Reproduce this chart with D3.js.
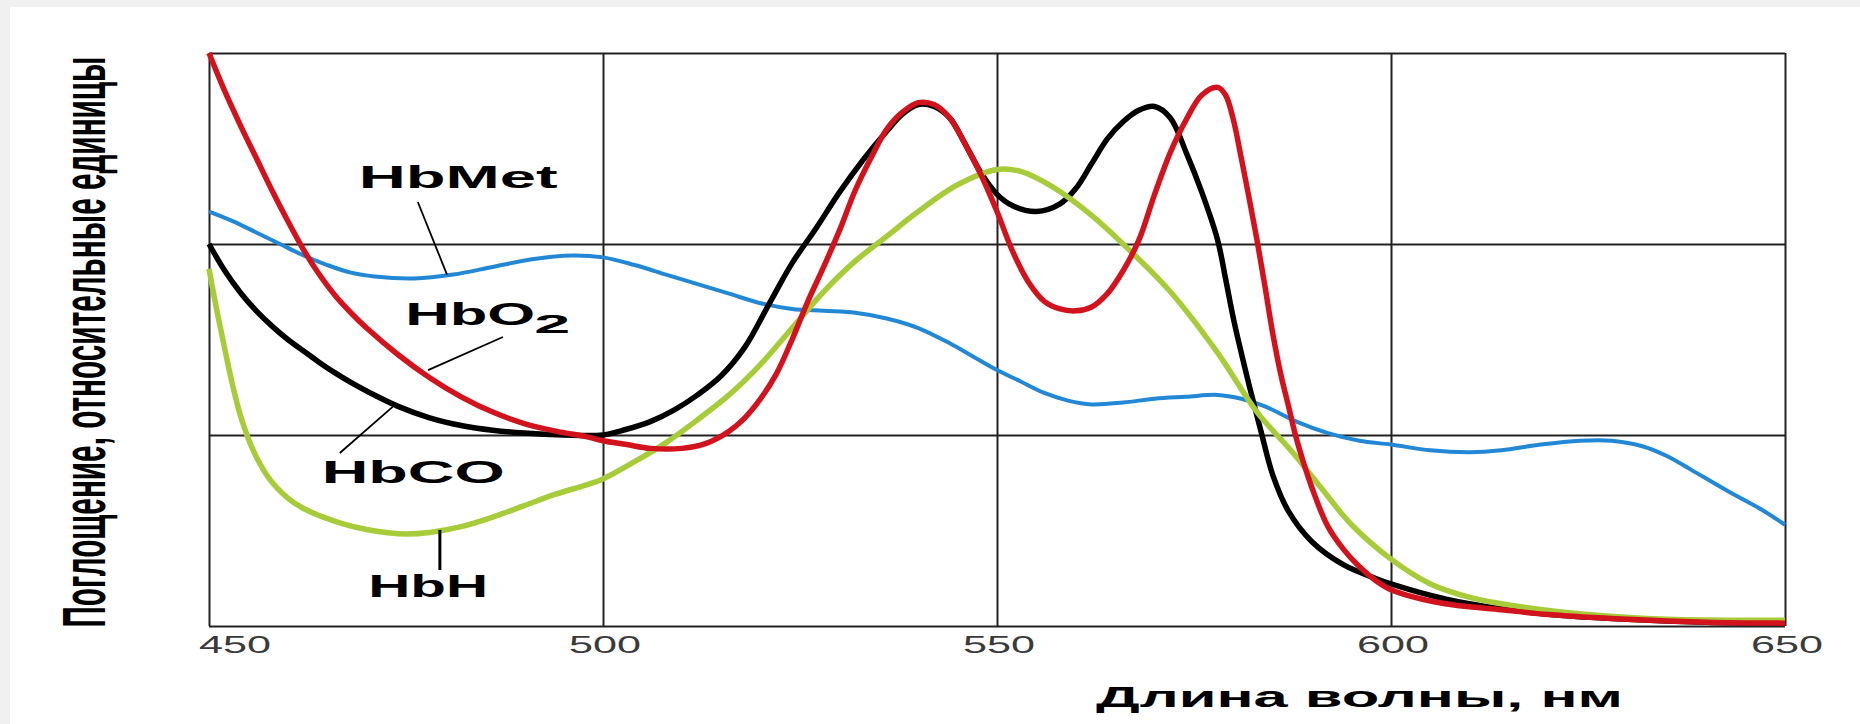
<!DOCTYPE html>
<html>
<head>
<meta charset="utf-8">
<script src="https://cdn.jsdelivr.net/npm/d3@7"></script>
<style>
  body { margin: 0; background: #fff; }
  svg { display: block; }
  text { font-family: "Liberation Sans", Arial, sans-serif; }
</style>
</head>
<body>
<svg id="chart" width="1860" height="724"></svg>
<script>
// absorption spectra: [wavelength nm, relative units]
const hbMet = [[450,2.17],[453,2.12],[456,2.06],[459,2.00],[462,1.94],[465,1.89],[468,1.85],[471,1.83],[476,1.82],[481,1.84],[486,1.88],[491,1.92],[496,1.94],[500,1.93],[504,1.89],[508,1.84],[512,1.79],[516,1.74],[520,1.69],[524,1.66],[528,1.65],[532,1.64],[536,1.61],[540,1.56],[544,1.48],[547,1.41],[550,1.34],[553,1.28],[556,1.22],[559,1.18],[562,1.16],[566,1.17],[570,1.19],[574,1.20],[578,1.21],[581,1.19],[584,1.15],[588,1.07],[592,1.01],[596,0.97],[600,0.95],[605,0.92],[610,0.91],[614,0.92],[619,0.95],[624,0.97],[628,0.97],[632,0.94],[635,0.89],[638,0.82],[643,0.70],[647,0.61],[650,0.53]];

const hbH = [[450,1.87],[451,1.65],[452,1.45],[453,1.26],[454,1.10],[455.5,0.93],[457.5,0.78],[460,0.67],[462,0.615],[464.5,0.57],[467,0.535],[470,0.505],[473,0.487],[475,0.482],[478,0.49],[482,0.52],[486,0.57],[490,0.63],[494,0.69],[498,0.74],[500,0.77],[504,0.86],[508,0.96],[512,1.08],[516,1.21],[520,1.37],[524,1.56],[528,1.75],[532,1.91],[536,2.04],[540,2.17],[545,2.31],[550,2.39],[553,2.38],[557,2.30],[562,2.15],[567,1.96],[572,1.75],[578,1.43],[583,1.12],[587.5,0.91],[591,0.73],[595,0.53],[600,0.35],[605,0.22],[610,0.15],[615,0.11],[625,0.06],[635,0.035],[650,0.03]];

const hbCO = [[450,2.0],[452,1.86],[454,1.745],[456,1.65],[458,1.57],[460,1.50],[462,1.44],[464,1.38],[466,1.325],[468,1.275],[470,1.23],[474,1.15],[478,1.09],[482,1.05],[486,1.025],[490,1.01],[495,1.0],[500,1.0],[503,1.03],[506,1.07],[509,1.13],[512,1.21],[515,1.31],[518,1.46],[521,1.68],[524,1.90],[527,2.08],[530,2.27],[533,2.44],[536,2.59],[538,2.68],[540,2.73],[542,2.72],[544,2.66],[546,2.52],[548,2.37],[550,2.26],[552,2.20],[555,2.17],[558,2.21],[560,2.29],[562,2.42],[564,2.55],[566,2.64],[568,2.70],[570,2.72],[572,2.66],[574,2.48],[576,2.27],[578,2.02],[579,1.82],[580,1.61],[581,1.43],[582,1.26],[583.5,1.02],[585,0.79],[587,0.60],[590,0.44],[594,0.32],[598,0.25],[600,0.22],[607,0.14],[614,0.09],[622,0.055],[630,0.035],[640,0.02],[650,0.015]];

const hbO2 = [[450,3.0],[452,2.80],[454,2.62],[456,2.45],[458,2.28],[460,2.12],[462,1.97],[464,1.84],[466,1.73],[468,1.64],[470,1.56],[474,1.42],[478,1.30],[482,1.20],[486,1.12],[490,1.06],[494,1.02],[498,0.99],[500,0.97],[503,0.95],[506,0.93],[510,0.93],[513,0.955],[516,1.02],[518,1.09],[520,1.19],[522,1.32],[524,1.50],[526,1.70],[528,1.88],[530,2.07],[532,2.28],[534,2.45],[536,2.60],[538,2.69],[540,2.74],[542,2.73],[544,2.66],[546,2.52],[548,2.36],[550,2.17],[552,1.96],[554,1.80],[556,1.70],[558,1.66],[560,1.65],[562,1.67],[564,1.74],[566,1.86],[568,2.02],[570,2.26],[572,2.48],[574,2.65],[576,2.78],[578,2.82],[579,2.78],[580,2.65],[581,2.45],[582,2.24],[583,2.02],[584,1.78],[585,1.53],[586,1.32],[587,1.15],[588,0.98],[590,0.72],[592,0.52],[594,0.40],[596,0.31],[598,0.24],[600,0.19],[604,0.14],[608,0.11],[614,0.085],[620,0.06],[630,0.035],[640,0.02],[650,0.015]];

const xTicks = [450, 500, 550, 600, 650];
const yGrid = [0, 1, 2, 3];

// label text, anchor (wavelength, value) and leader line ends in data units
const labels = [
  { name: "HbMet", at: [469.0, 2.293], lead: [[476.5, 2.22], [480.2, 1.84]] },
  { name: "HbO", sub: "2", at: [474.9, 1.576], lead: [[487.3, 1.513], [477.8, 1.34]] },
  { name: "HbCO", at: [464.3, 0.749], lead: [[473.3, 1.147], [466.6, 0.906]] },
  { name: "HbH", at: [470.2, 0.152], lead: [[479.3, 0.503], [479.3, 0.293]] }
];

const svg = d3.select("#chart");

// light grey frame strips on top and left
svg.append("rect").attr("x", 0).attr("y", 0).attr("width", 1860).attr("height", 7).attr("fill", "#f0f0f0");
svg.append("rect").attr("x", 0).attr("y", 0).attr("width", 10).attr("height", 724).attr("fill", "#f0f0f0");

const mLeft = 209, mRight = 1785, mTop = 53, mBottom = 626;

const x = d3.scaleLinear().domain([450, 650]).range([mLeft, mRight]);
const y = d3.scaleLinear().domain([0, 3]).range([mBottom, mTop]);

// grid
svg.append("g")
    .attr("transform", `translate(0, ${mBottom})`)
    .call(d3.axisBottom(x).tickValues(xTicks).tickSize(-(mBottom - mTop)).tickFormat(""))
    .call(g => g.select(".domain").remove())
    .selectAll("line").attr("stroke", "#222").attr("stroke-width", 2);

svg.append("g")
    .attr("transform", `translate(${mLeft}, 0)`)
    .call(d3.axisLeft(y).tickValues(yGrid).tickSize(-(mRight - mLeft)).tickFormat(""))
    .call(g => g.select(".domain").remove())
    .selectAll("line").attr("stroke", "#222").attr("stroke-width", 2);

// tick labels (stretched like the source picture)
svg.append("g").selectAll("text")
    .data(xTicks)
    .enter().append("text")
    .attr("x", (d, i) => i === 0 ? x(d) + 26 : x(d) + 2)
    .attr("y", 653)
    .attr("text-anchor", "middle")
    .attr("textLength", 72)
    .attr("lengthAdjust", "spacingAndGlyphs")
    .style("font-size", "24px")
    .style("fill", "#3a3a3a")
    .text(d => d);

// curves
const line = d3.line()
    .x(d => x(d[0]))
    .y(d => y(d[1]))
    .curve(d3.curveCatmullRom.alpha(0.5));

const series = [
  { data: hbMet, color: "#2288d6", width: 4 },
  { data: hbCO, color: "#000000", width: 5.5 },
  { data: hbH, color: "#a8cb3a", width: 5.5 },
  { data: hbO2, color: "#d2121c", width: 5.5 }
];

svg.append("g").selectAll("path")
    .data(series)
    .enter().append("path")
    .attr("d", d => line(d.data))
    .attr("fill", "none")
    .attr("stroke", d => d.color)
    .attr("stroke-width", d => d.width)
    .attr("stroke-linejoin", "round");

// curve labels with leader lines
const lab = svg.append("g");
labels.forEach(l => {
    lab.append("line")
        .attr("x1", x(l.lead[0][0])).attr("y1", y(l.lead[0][1]))
        .attr("x2", x(l.lead[1][0])).attr("y2", y(l.lead[1][1]))
        .attr("stroke", "#000")
        .attr("stroke-width", l.name === "HbH" ? 3 : 1.8);
});

const widths = { HbMet: 199, HbO: 130, HbCO: 183, HbH: 120 };
labels.forEach(l => {
    lab.append("text")
        .attr("x", x(l.at[0]))
        .attr("y", y(l.at[1]))
        .attr("textLength", widths[l.name])
        .attr("lengthAdjust", "spacingAndGlyphs")
        .style("font-size", "31px")
        .style("font-weight", "bold")
        .text(l.name);
    if (l.sub) {
        lab.append("text")
            .attr("x", x(l.at[0]) + widths[l.name] - 1)
            .attr("y", y(l.at[1]) + 8)
            .attr("textLength", 36)
            .attr("lengthAdjust", "spacingAndGlyphs")
            .style("font-size", "26px")
            .style("font-weight", "bold")
            .text(l.sub);
    }
});

// axis titles
svg.append("text")
    .attr("x", 1096)
    .attr("y", 707)
    .attr("textLength", 527)
    .attr("lengthAdjust", "spacingAndGlyphs")
    .style("font-size", "30px")
    .style("font-weight", "bold")
    .text("Длина волны, нм");

svg.append("g")
    .attr("transform", "translate(105, 342) scale(2, 1) rotate(-90)")
    .append("text")
    .attr("text-anchor", "middle")
    .attr("textLength", 571)
    .attr("lengthAdjust", "spacingAndGlyphs")
    .style("font-size", "31px")
    .style("font-weight", "bold")
    .text("Поглощение, относительные единицы");
</script>
</body>
</html>
